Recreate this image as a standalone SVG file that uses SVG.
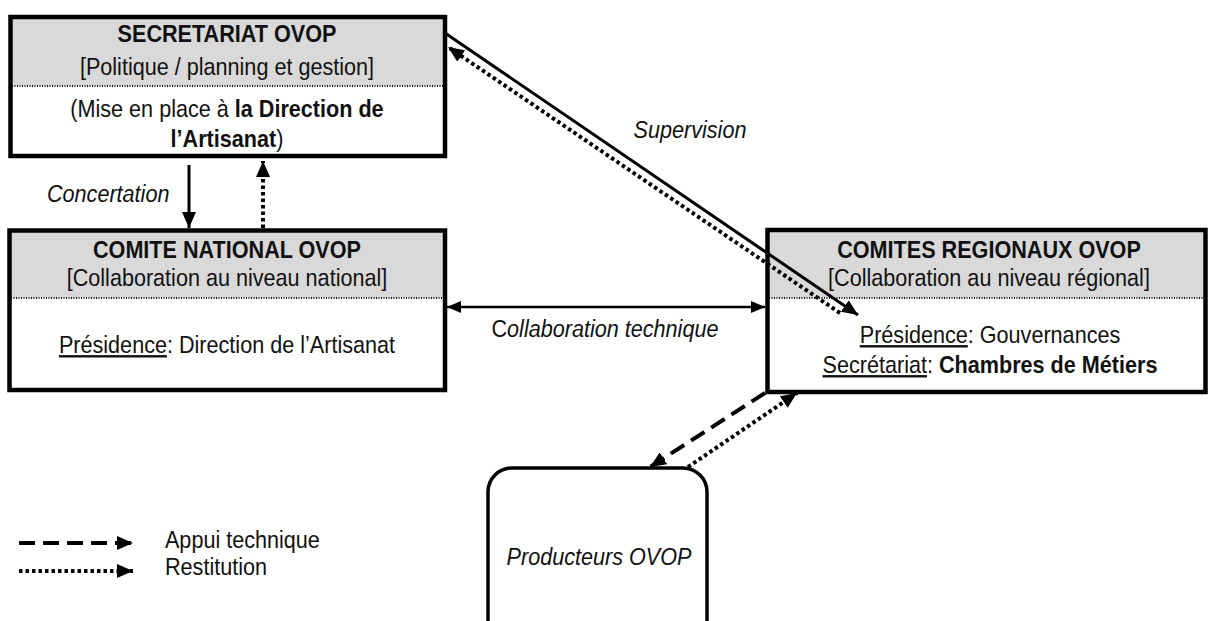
<svg xmlns="http://www.w3.org/2000/svg" width="1209" height="621" viewBox="0 0 1209 621">
<style>
text{font-family:"Liberation Sans",Arial,sans-serif;font-size:24px;fill:#111}
.b{font-weight:bold}
.i{font-style:italic}
.u{text-decoration:underline}
.hdr{fill:#d9d9d9}
.sep{stroke:#111;stroke-width:2;stroke-dasharray:1 1.5;fill:none}
.box{fill:none;stroke:#000;stroke-width:4.5}
.solid{stroke:#000;stroke-width:3;fill:none}
.thin{stroke:#000;stroke-width:2.5;fill:none}
.dot{stroke:#000;stroke-width:4;stroke-dasharray:3.5 3;fill:none}
.dash{stroke:#000;stroke-width:4;stroke-dasharray:16 8;fill:none}
</style>
<defs>
<marker id="ah" viewBox="0 0 16 14" refX="16" refY="7" markerWidth="16" markerHeight="14" markerUnits="userSpaceOnUse" orient="auto-start-reverse">
<path d="M0,0 L16,7 L0,14 Z" fill="#000"/>
</marker>
<marker id="ahs" viewBox="0 0 14 12" refX="14" refY="6" markerWidth="14" markerHeight="12" markerUnits="userSpaceOnUse" orient="auto-start-reverse">
<path d="M0,0 L14,6 L0,12 Z" fill="#000"/>
</marker>
</defs>

<g id="secretariat">
<rect class="hdr" x="10.5" y="17" width="434.5" height="69"/>
<line class="sep" x1="12" y1="86" x2="443" y2="86"/>
<rect class="box" x="10.5" y="17" width="434.5" height="139"/>
<g transform="scale(0.9 1)" text-anchor="middle">
<text class="b" x="252.2" y="42">SECRETARIAT OVOP</text>
<text x="252.2" y="75">[Politique / planning et gestion]</text>
<text x="252.2" y="117">(Mise en place à <tspan class="b">la Direction de</tspan></text>
<text x="252.2" y="147"><tspan class="b">l’Artisanat</tspan>)</text>
</g>
</g>

<g id="comite-national">
<rect class="hdr" x="9.5" y="230.5" width="435.5" height="67.5"/>
<line class="sep" x1="11" y1="298" x2="443" y2="298"/>
<rect class="box" x="9.5" y="230.5" width="435.5" height="159.5"/>
<g transform="scale(0.9 1)" text-anchor="middle">
<text class="b" x="252.2" y="258">COMITE NATIONAL OVOP</text>
<text x="252.2" y="286">[Collaboration au niveau national]</text>
<text x="252.2" y="353"><tspan class="u">Présidence</tspan>: Direction de l’Artisanat</text>
</g>
</g>

<g id="comites-regionaux">
<rect class="hdr" x="767.5" y="230" width="438" height="68"/>
<line class="sep" x1="769" y1="298" x2="1204" y2="298"/>
<rect class="box" x="767.5" y="230" width="438" height="162"/>
<g transform="scale(0.9 1)" text-anchor="middle">
<text class="b" x="1098.9" y="258">COMITES REGIONAUX OVOP</text>
<text x="1098.9" y="286">[Collaboration au niveau régional]</text>
<text x="1100" y="343"><tspan class="u">Présidence</tspan>: Gouvernances</text>
<text x="1100" y="373"><tspan class="u">Secrétariat</tspan>: <tspan class="b">Chambres de Métiers</tspan></text>
</g>
</g>

<g id="producteurs">
<rect x="488" y="468" width="219" height="200" rx="24" ry="24" fill="none" stroke="#000" stroke-width="3.5"/>
<text class="i" transform="scale(0.9 1)" x="665.6" y="565" text-anchor="middle">Producteurs OVOP</text>
</g>

<g id="connectors">
<line class="solid" x1="189" y1="165" x2="189" y2="228" marker-end="url(#ah)"/>
<line class="dot" x1="263" y1="228" x2="263" y2="161" marker-end="url(#ah)"/>
<line class="thin" x1="447" y1="307" x2="765" y2="307" marker-start="url(#ahs)" marker-end="url(#ahs)"/>
<line class="solid" x1="445" y1="33" x2="858" y2="315" marker-end="url(#ah)"/>
<line class="dot" x1="840" y1="313" x2="448" y2="47" marker-end="url(#ah)"/>
<line class="dash" x1="765" y1="393" x2="650" y2="467" marker-end="url(#ah)"/>
<line class="dot" x1="688" y1="467" x2="797" y2="393" marker-end="url(#ah)"/>
<line class="dash" x1="19" y1="543" x2="133" y2="543" marker-end="url(#ah)"/>
<line class="dot" x1="19" y1="571" x2="133" y2="571" marker-end="url(#ah)"/>
</g>

<g id="labels" transform="scale(0.9 1)">
<text class="i" x="52.2" y="202">Concertation</text>
<text class="i" x="766.7" y="138" text-anchor="middle">Supervision</text>
<text x="672.2" y="337" text-anchor="middle">C<tspan class="i">ollaboration technique</tspan></text>
<text x="183.3" y="548">Appui technique</text>
<text x="183.3" y="575">Restitution</text>
</g>
</svg>
